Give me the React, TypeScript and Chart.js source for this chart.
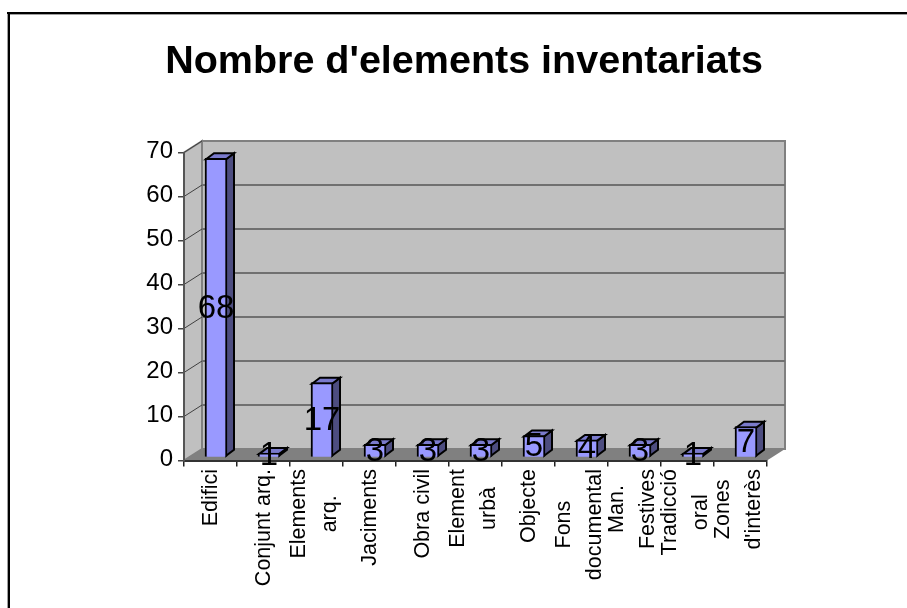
import React, { useEffect, useRef } from "react";
import { Chart, registerables } from "chart.js";

Chart.register(...registerables);

const titleText = "Nombre d'elements inventariats";
const categories: string[][] = [
  ["Edifici"],
  ["Conjunt arq."],
  ["Elements", "arq."],
  ["Jaciments"],
  ["Obra civil"],
  ["Element", "urbà"],
  ["Objecte"],
  ["Fons", "documental"],
  ["Man.", "Festives"],
  ["Tradicció", "oral"],
  ["Zones", "d'interès"],
];
const elementCounts = [68, 1, 17, 3, 3, 3, 5, 4, 3, 1, 7];

const FONT = '"Liberation Sans", Arial, sans-serif';
const WALL_DX = 18;
const WALL_DY = -11.5;
const BAR_SHIFT_X = 5.5;
const BAR_SHIFT_Y = -3;
const BAR_DX = 8;
const BAR_DY = -6;

function poly(ctx: CanvasRenderingContext2D, pts: number[][], fill: string, stroke?: string, lw = 1) {
  ctx.beginPath();
  pts.forEach((p, i) => (i ? ctx.lineTo(p[0], p[1]) : ctx.moveTo(p[0], p[1])));
  ctx.closePath();
  ctx.fillStyle = fill;
  ctx.fill();
  if (stroke) {
    ctx.strokeStyle = stroke;
    ctx.lineWidth = lw;
    ctx.stroke();
  }
}

const scene = {
  id: "scene3d",
  beforeDraw(chart: any) {
    const { ctx, chartArea, scales } = chart;
    const { left, right, top, bottom } = chartArea;
    ctx.save();
    // outer frame
    ctx.fillStyle = "#a0a0a0";
    ctx.fillRect(7, 14, 1, 594);
    ctx.fillRect(7, 14, 900, 1);
    ctx.fillStyle = "#000";
    ctx.fillRect(8, 12, 2, 596);
    ctx.fillRect(7, 12, 900, 2);
    // walls
    poly(ctx, [[left, top], [left + WALL_DX, top + WALL_DY], [left + WALL_DX, bottom + WALL_DY], [left, bottom]], "#c0c0c0", "#808080", 2);
    poly(ctx, [[left + WALL_DX, top + WALL_DY], [right + WALL_DX, top + WALL_DY], [right + WALL_DX, bottom + WALL_DY], [left + WALL_DX, bottom + WALL_DY]], "#c0c0c0", "#808080", 2);
    poly(ctx, [[left, bottom], [left + WALL_DX, bottom + WALL_DY], [right + WALL_DX, bottom + WALL_DY], [right, bottom]], "#808080");
    // grid lines
    scales.y.ticks.forEach((t: any) => {
      const y = scales.y.getPixelForValue(t.value);
      if (t.value > 0 && t.value < 70) {
        ctx.strokeStyle = "#707070";
        ctx.lineWidth = 2;
        ctx.beginPath();
        ctx.moveTo(left + WALL_DX, y + WALL_DY);
        ctx.lineTo(right + WALL_DX, y + WALL_DY);
        ctx.stroke();
      }
      if (t.value > 0) {
        ctx.strokeStyle = "#404040";
        ctx.lineWidth = 1;
        ctx.beginPath();
        ctx.moveTo(left, y);
        ctx.lineTo(left + WALL_DX, y + WALL_DY);
        ctx.stroke();
      }
    });
    ctx.restore();
  },
  beforeDatasetsDraw(chart: any) {
    const { ctx } = chart;
    ctx.save();
    ctx.translate(BAR_SHIFT_X, BAR_SHIFT_Y);
    chart.getDatasetMeta(0).data.forEach((el: any) => {
      const { x, y, base, width } = el.getProps(["x", "y", "base", "width"], true);
      const l = x - width / 2 + 1;
      const r = x + width / 2 - 1;
      const t = y + 1;
      const b = base - 1;
      poly(ctx, [[r, t], [r + BAR_DX, t + BAR_DY], [r + BAR_DX, b + BAR_DY], [r, b]], "#4d4d80", "#000", 2);
      poly(ctx, [[l, t], [l + BAR_DX, t + BAR_DY], [r + BAR_DX, t + BAR_DY], [r, t]], "#7a7acc", "#000", 2);
    });
  },
  afterDatasetsDraw(chart: any) {
    const { ctx, scales, chartArea } = chart;
    ctx.restore();
    ctx.save();
    // value labels
    ctx.fillStyle = "#000";
    ctx.font = `33px ${FONT}`;
    ctx.textAlign = "center";
    ctx.textBaseline = "middle";
    chart.getDatasetMeta(0).data.forEach((el: any, i: number) => {
      const { x, y, base } = el.getProps(["x", "y", "base"], true);
      ctx.fillText(String(elementCounts[i]), x + BAR_SHIFT_X, (y + base) / 2 + BAR_SHIFT_Y + 1);
    });
    // value-axis tick labels
    ctx.font = `24px ${FONT}`;
    ctx.textAlign = "right";
    scales.y.ticks.forEach((t: any) => {
      ctx.fillText(String(t.value), chartArea.left - 11, scales.y.getPixelForValue(t.value) - 1);
    });
    // rotated category labels
    ctx.font = `21.5px ${FONT}`;
    ctx.textAlign = "center";
    ctx.textBaseline = "alphabetic";
    categories.forEach((lines, i) => {
      const cx = scales.x.getPixelForTick(i);
      const widest = Math.max(...lines.map((s) => ctx.measureText(s).width));
      const axisY = chartArea.bottom + 8.5 + widest / 2;
      const first = lines.length === 1 ? cx + 6.5 : cx + 4 - 15.5;
      lines.forEach((s, k) => {
        ctx.save();
        ctx.translate(first + k * 31, axisY);
        ctx.rotate(-Math.PI / 2);
        ctx.fillText(s, 0, 0);
        ctx.restore();
      });
    });
    ctx.restore();
  },
};

export default function App() {
  const ref = useRef<HTMLCanvasElement>(null);
  useEffect(() => {
    const chart = new Chart(ref.current!, {
      type: "bar",
      data: {
        labels: categories.map((c) => c.join(" ")),
        datasets: [
          {
            data: elementCounts,
            backgroundColor: "#9999ff",
            borderColor: "#000",
            borderWidth: 2,
            barThickness: 22,
            clip: false,
          } as any,
        ],
      },
      options: {
        animation: false,
        responsive: false,
        layout: { padding: { left: 161, right: 140, top: 0, bottom: 0 } },
        plugins: {
          legend: { display: false },
          tooltip: { enabled: false },
          title: {
            display: true,
            text: titleText,
            color: "#000",
            font: { family: FONT, size: 39.5, weight: "bold", lineHeight: 1.2 },
            padding: { top: 38.3, bottom: 66.8 },
          },
        },
        scales: {
          x: {
            afterFit: (s: any) => {
              s.height = 147.5;
            },
            ticks: { display: false, autoSkip: false },
            grid: { drawOnChartArea: false, drawTicks: true, tickLength: 6, color: "#222", lineWidth: 1.5 },
            border: { display: true, color: "#333", width: 2 },
          },
          y: {
            min: 0,
            max: 70,
            afterFit: (s: any) => {
              s.width = 23;
            },
            ticks: { display: false, stepSize: 10 },
            grid: { drawOnChartArea: false, drawTicks: true, tickLength: 6, color: "#444", lineWidth: 1.5 },
            border: { display: true, color: "#555", width: 2 },
          },
        },
      } as any,
      plugins: [scene as any],
    });
    return () => chart.destroy();
  }, []);
  return (
    <div style={{ position: "absolute", left: 0, top: 0, width: 907, height: 608, background: "#fff", overflow: "hidden" }}>
      <canvas ref={ref} width={907} height={608} style={{ display: "block" }} />
    </div>
  );
}
